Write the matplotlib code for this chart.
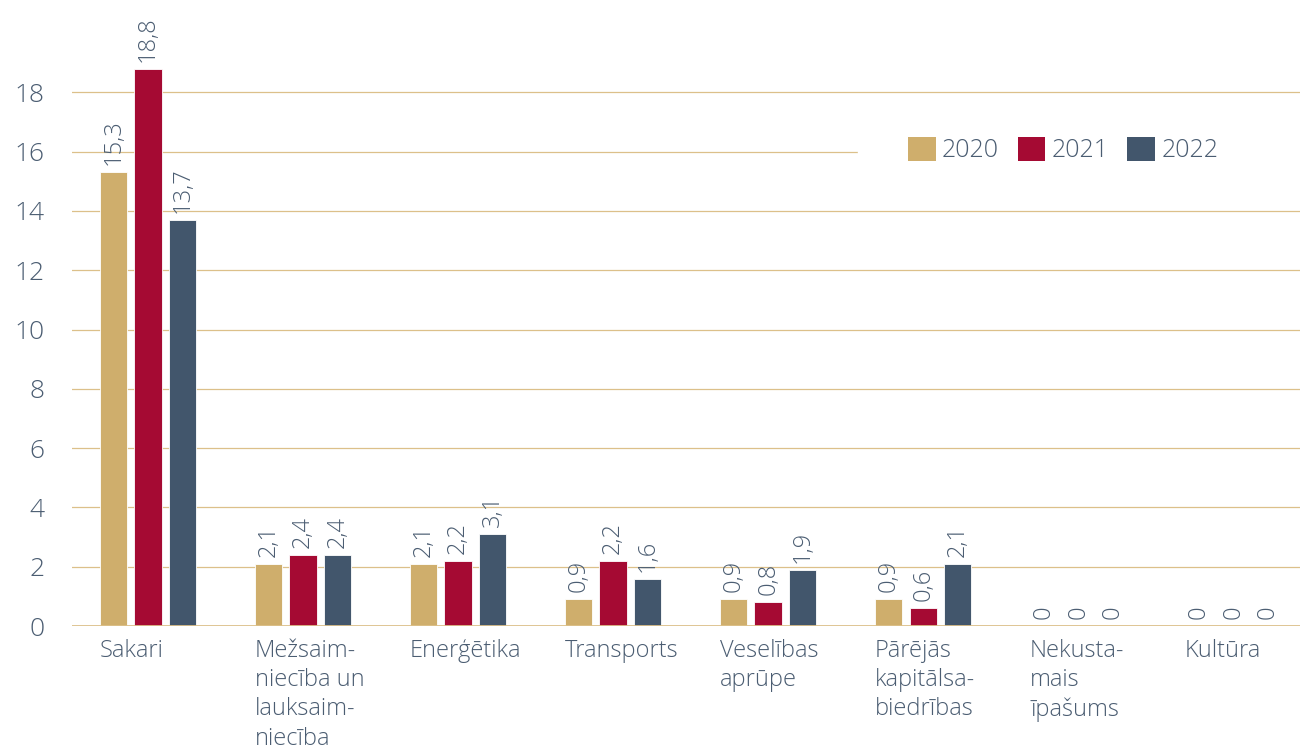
import numpy as np
import matplotlib
matplotlib.use("Agg")
import matplotlib.pyplot as plt
from matplotlib.patches import Patch, Rectangle

plt.rcParams['font.family'] = ['Open Sans', 'DejaVu Sans']

categories = ["Sakari", "Mežsaim-\nniecība un\nlauksaim-\nniecība", "Enerģētika", "Transports",
              "Veselības\naprūpe", "Pārējās\nkapitālsa-\nbiedrības", "Nekusta-\nmais\nīpašums", "Kultūra"]
years = ["2020", "2021", "2022"]
v2020 = [15.3, 2.1, 2.1, 0.9, 0.9, 0.9, 0, 0]
v2021 = [18.8, 2.4, 2.2, 2.2, 0.8, 0.6, 0, 0]
v2022 = [13.7, 2.4, 3.1, 1.6, 1.9, 2.1, 0, 0]
yticks = [0, 2, 4, 6, 8, 10, 12, 14, 16, 18]

colors = ["#cfae6c", "#a50a33", "#42566c"]
txt = "#4b5d72"
grid = "#dcc08a"

fig = plt.figure(figsize=(13, 7.51), dpi=100)
ax = fig.add_axes([0.0554, 0.1664, 0.9446, 0.7896])

x = np.arange(len(categories))
step, w = 0.2226, 0.177
for k, (vals, c) in enumerate(zip([v2020, v2021, v2022], colors)):
    xs = x + (k - 1) * step
    ax.bar(xs, vals, w, color=c, edgecolor="white", lw=0.6, zorder=3)
    for xi, v in zip(xs, vals):
        lbl = f"{v:.1f}".replace(".", ",") if v else "0"
        ax.annotate(lbl, (xi, v), xytext=(0, 5), textcoords="offset points",
                    rotation=90, ha="center", va="bottom", fontsize=17,
                    color=txt, fontweight="light")

ax.set_ylim(0, 20)
ax.set_xlim(-0.49, 7.43)
ax.set_yticks(yticks)
ax.set_yticklabels([str(t) for t in yticks], fontsize=19, color=txt, fontweight="light")
for t in yticks[1:]:
    ax.axhline(t, color=grid, lw=0.9, zorder=1)
ax.axhline(0, color=grid, lw=2, zorder=4)

ax.set_xticks(x - step - w / 2)
ax.set_xticklabels(categories, ha="left", va="top", fontsize=17, color=txt,
                   fontweight="light", linespacing=1.3)
ax.tick_params(axis="both", length=0)
ax.tick_params(axis="y", pad=20)
ax.tick_params(axis="x", pad=9)
for s in ax.spines.values():
    s.set_visible(False)

# white block behind the legend
ax.add_patch(Rectangle((0.640, 0.74), 0.36, 0.13, transform=ax.transAxes,
                       color="white", zorder=2))
handles = [Patch(facecolor=c, edgecolor="none") for c in colors]
ax.legend(handles, years, loc="center left", bbox_to_anchor=(0.681, 0.803),
          frameon=False, handlelength=1.1, handleheight=1.1,
          handletextpad=0.25, columnspacing=0.75, ncol=3, borderpad=0,
          borderaxespad=0, labelcolor=txt, prop={"weight": "light", "size": 18})

fig.savefig("out.png", dpi=100)
